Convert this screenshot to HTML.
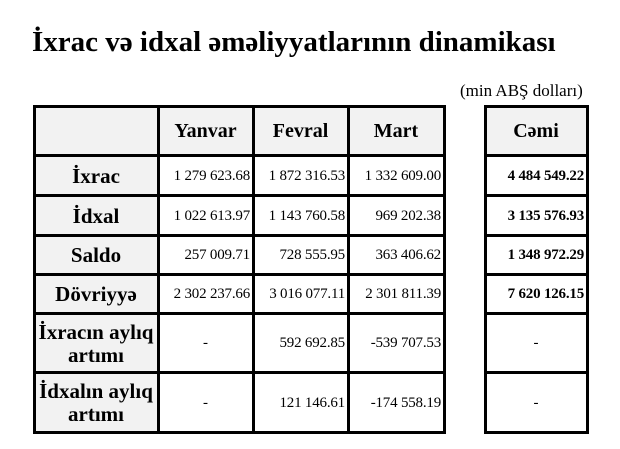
<!DOCTYPE html>
<html><head><meta charset="utf-8"><style>
body{margin:0;width:620px;height:449px;background:#fff;position:relative;overflow:hidden;font-family:"Liberation Serif",serif;color:#000}
.a{position:absolute}
.h{position:absolute;height:3px;background:#000}
.v{position:absolute;width:3px;background:#000}
.c{position:absolute;display:flex;align-items:center;box-sizing:border-box;white-space:nowrap}
.g{background:#f2f2f2}
.lb{justify-content:center;text-align:center;font-weight:bold;font-size:21px;line-height:23px}
.hd{font-size:20px}
.n{justify-content:flex-end;padding-right:3px;font-size:15px;letter-spacing:-0.2px}
.b{font-weight:bold;font-size:15px}
.m{justify-content:center;font-size:15px}
</style></head><body>
<div class="a" style="left:32px;width:523px;top:26px;text-align:center;font-weight:bold;font-size:29px;white-space:nowrap">İxrac və idxal əməliyyatlarının dinamikası</div>
<div class="a" style="left:460px;top:81px;font-size:17px;white-space:nowrap">(min ABŞ dolları)</div>

<div class="c g" style="left:34px;top:106px;width:412px;height:50px"></div>
<div class="c g" style="left:34px;top:106px;width:124px;height:328px"></div>
<div class="c g" style="left:485px;top:106px;width:104px;height:50px"></div>

<div class="c lb hd" style="left:158px;top:107px;width:95px;height:48px">Yanvar</div>
<div class="c lb hd" style="left:253px;top:107px;width:95px;height:48px">Fevral</div>
<div class="c lb hd" style="left:348px;top:107px;width:96px;height:48px">Mart</div>
<div class="c lb hd" style="left:485px;top:107px;width:102px;height:48px">Cəmi</div>

<div class="c lb" style="left:34px;top:156px;width:124px;height:40px">İxrac</div>
<div class="c lb" style="left:34px;top:196px;width:124px;height:40px">İdxal</div>
<div class="c lb" style="left:34px;top:236px;width:124px;height:39px">Saldo</div>
<div class="c lb" style="left:34px;top:275px;width:124px;height:39px">Dövriyyə</div>
<div class="c lb" style="left:34px;top:314px;width:124px;height:59px">İxracın aylıq<br>artımı</div>
<div class="c lb" style="left:34px;top:373px;width:124px;height:60px">İdxalın aylıq<br>artımı</div>

<div class="c n" style="left:158px;top:156px;width:95px;height:40px">1 279 623.68</div>
<div class="c n" style="left:253px;top:156px;width:95px;height:40px">1 872 316.53</div>
<div class="c n" style="left:348px;top:156px;width:96px;height:40px">1 332 609.00</div>
<div class="c n b" style="left:485px;top:156px;width:102px;height:40px">4 484 549.22</div>

<div class="c n" style="left:158px;top:196px;width:95px;height:40px">1 022 613.97</div>
<div class="c n" style="left:253px;top:196px;width:95px;height:40px">1 143 760.58</div>
<div class="c n" style="left:348px;top:196px;width:96px;height:40px">969 202.38</div>
<div class="c n b" style="left:485px;top:196px;width:102px;height:40px">3 135 576.93</div>

<div class="c n" style="left:158px;top:236px;width:95px;height:39px">257 009.71</div>
<div class="c n" style="left:253px;top:236px;width:95px;height:39px">728 555.95</div>
<div class="c n" style="left:348px;top:236px;width:96px;height:39px">363 406.62</div>
<div class="c n b" style="left:485px;top:236px;width:102px;height:39px">1 348 972.29</div>

<div class="c n" style="left:158px;top:275px;width:95px;height:39px">2 302 237.66</div>
<div class="c n" style="left:253px;top:275px;width:95px;height:39px">3 016 077.11</div>
<div class="c n" style="left:348px;top:275px;width:96px;height:39px">2 301 811.39</div>
<div class="c n b" style="left:485px;top:275px;width:102px;height:39px">7 620 126.15</div>

<div class="c m" style="left:158px;top:314px;width:95px;height:59px">-</div>
<div class="c n" style="left:253px;top:314px;width:95px;height:59px">592 692.85</div>
<div class="c n" style="left:348px;top:314px;width:96px;height:59px">-539 707.53</div>
<div class="c m" style="left:485px;top:314px;width:102px;height:59px">-</div>

<div class="c m" style="left:158px;top:373px;width:95px;height:60px">-</div>
<div class="c n" style="left:253px;top:373px;width:95px;height:60px">121 146.61</div>
<div class="c n" style="left:348px;top:373px;width:96px;height:60px">-174 558.19</div>
<div class="c m" style="left:485px;top:373px;width:102px;height:60px">-</div>

<div class="h" style="left:33px;width:413px;top:105px"></div>
<div class="h" style="left:33px;width:413px;top:154px"></div>
<div class="h" style="left:33px;width:413px;top:194px"></div>
<div class="h" style="left:33px;width:413px;top:234px"></div>
<div class="h" style="left:33px;width:413px;top:273px"></div>
<div class="h" style="left:33px;width:413px;top:312px"></div>
<div class="h" style="left:33px;width:413px;top:371px"></div>
<div class="h" style="left:33px;width:413px;top:431px"></div>
<div class="v" style="left:33px;top:105px;height:329px"></div>
<div class="v" style="left:157px;top:105px;height:329px"></div>
<div class="v" style="left:252px;top:105px;height:329px"></div>
<div class="v" style="left:347px;top:105px;height:329px"></div>
<div class="v" style="left:443px;top:105px;height:329px"></div>
<div class="h" style="left:484px;width:105px;top:105px"></div>
<div class="h" style="left:484px;width:105px;top:154px"></div>
<div class="h" style="left:484px;width:105px;top:194px"></div>
<div class="h" style="left:484px;width:105px;top:234px"></div>
<div class="h" style="left:484px;width:105px;top:273px"></div>
<div class="h" style="left:484px;width:105px;top:312px"></div>
<div class="h" style="left:484px;width:105px;top:371px"></div>
<div class="h" style="left:484px;width:105px;top:431px"></div>
<div class="v" style="left:484px;top:105px;height:329px"></div>
<div class="v" style="left:586px;top:105px;height:329px"></div>
</body></html>
